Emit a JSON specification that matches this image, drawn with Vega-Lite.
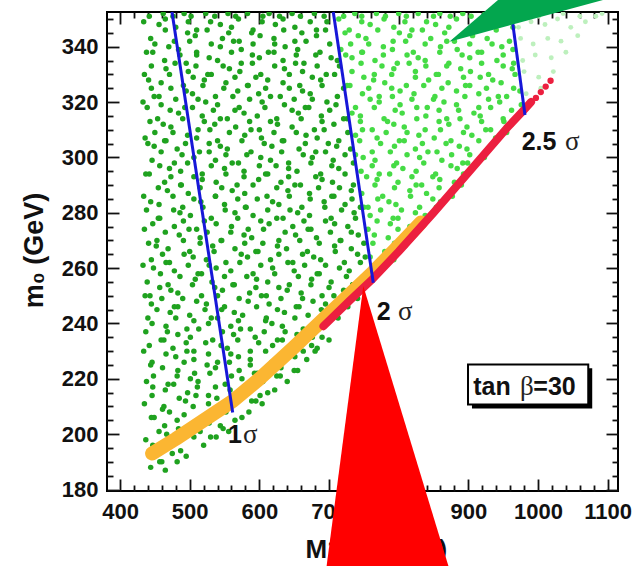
{
"$schema":"https://vega.github.io/schema/vega-lite/v6.json",
"width":511,"height":479,
"autosize":{"type":"none"},
"padding":{"left":107,"top":12,"right":19,"bottom":75},
"background":"white",
"config":{"view":{"stroke":"#000","strokeWidth":2},"axis":{"grid":false},"font":"Liberation Sans"},
"resolve":{"axis":{"x":"independent","y":"independent"}},
"datasets":{
"dark":[{"x":444,"y":188},{"x":457,"y":190},{"x":451,"y":193},{"x":460,"y":190},{"x":475,"y":193},{"x":447,"y":196},{"x":461,"y":195},{"x":477,"y":198},{"x":487,"y":194},{"x":437,"y":198},{"x":456,"y":201},{"x":467,"y":200},{"x":484,"y":202},{"x":506,"y":199},{"x":515,"y":201},
{"x":449,"y":206},{"x":464,"y":203},{"x":482,"y":205},{"x":494,"y":202},{"x":514,"y":205},{"x":528,"y":204},{"x":544,"y":203},
{"x":445,"y":206},{"x":461,"y":209},{"x":471,"y":208},{"x":492,"y":207},{"x":505,"y":210},{"x":524,"y":206},{"x":535,"y":209},{"x":552,"y":208},
{"x":435,"y":211},{"x":446,"y":214},{"x":463,"y":210},{"x":485,"y":213},{"x":494,"y":212},{"x":509,"y":214},{"x":527,"y":211},{"x":539,"y":213},{"x":559,"y":210},{"x":573,"y":213},{"x":589,"y":212},
{"x":447,"y":217},{"x":465,"y":216},{"x":477,"y":218},{"x":497,"y":215},{"x":511,"y":217},{"x":527,"y":214},{"x":537,"y":217},{"x":558,"y":216},{"x":571,"y":215},{"x":590,"y":218},{"x":601,"y":214},
{"x":438,"y":219},{"x":448,"y":221},{"x":469,"y":218},{"x":482,"y":221},{"x":501,"y":220},{"x":512,"y":219},{"x":529,"y":222},{"x":551,"y":218},{"x":560,"y":221},{"x":575,"y":220},{"x":593,"y":222},{"x":605,"y":219},{"x":625,"y":221},
{"x":444,"y":225},{"x":461,"y":224},{"x":483,"y":223},{"x":492,"y":226},{"x":507,"y":222},{"x":525,"y":225},{"x":537,"y":224},{"x":557,"y":226},{"x":571,"y":223},{"x":587,"y":225},{"x":597,"y":222},{"x":618,"y":225},{"x":631,"y":224},{"x":650,"y":223},
{"x":434,"y":230},{"x":446,"y":226},{"x":466,"y":229},{"x":480,"y":228},{"x":496,"y":230},{"x":506,"y":227},{"x":527,"y":229},{"x":540,"y":226},{"x":559,"y":229},{"x":570,"y":228},{"x":587,"y":227},{"x":609,"y":230},{"x":618,"y":226},{"x":633,"y":229},{"x":651,"y":228},{"x":663,"y":230},
{"x":442,"y":232},{"x":463,"y":234},{"x":476,"y":231},{"x":495,"y":233},{"x":506,"y":230},{"x":523,"y":233},{"x":545,"y":232},{"x":554,"y":231},{"x":569,"y":234},{"x":587,"y":230},{"x":599,"y":233},{"x":619,"y":232},{"x":633,"y":234},{"x":649,"y":231},{"x":659,"y":233},{"x":680,"y":230},
{"x":437,"y":237},{"x":459,"y":234},{"x":468,"y":237},{"x":483,"y":236},{"x":501,"y":235},{"x":513,"y":238},{"x":533,"y":234},{"x":547,"y":237},{"x":563,"y":236},{"x":573,"y":238},{"x":594,"y":235},{"x":607,"y":237},{"x":626,"y":234},{"x":637,"y":237},{"x":654,"y":236},{"x":676,"y":235},{"x":685,"y":238},{"x":700,"y":234},
{"x":446,"y":240},{"x":466,"y":239},{"x":480,"y":242},{"x":496,"y":238},{"x":506,"y":241},{"x":527,"y":240},{"x":540,"y":242},{"x":559,"y":239},{"x":570,"y":241},{"x":587,"y":238},{"x":609,"y":241},{"x":618,"y":240},{"x":633,"y":239},{"x":651,"y":242},{"x":663,"y":238},{"x":683,"y":241},{"x":697,"y":240},{"x":713,"y":242},
{"x":440,"y":242},{"x":453,"y":245},{"x":472,"y":244},{"x":483,"y":246},{"x":500,"y":243},{"x":522,"y":245},{"x":531,"y":242},{"x":546,"y":245},{"x":564,"y":244},{"x":576,"y":243},{"x":596,"y":246},{"x":610,"y":242},{"x":626,"y":245},{"x":636,"y":244},{"x":657,"y":246},{"x":670,"y":243},{"x":689,"y":245},{"x":700,"y":242},{"x":717,"y":245},
{"x":436,"y":250},{"x":445,"y":247},{"x":460,"y":249},{"x":478,"y":246},{"x":490,"y":249},{"x":510,"y":248},{"x":524,"y":247},{"x":540,"y":250},{"x":550,"y":246},{"x":571,"y":249},{"x":584,"y":248},{"x":603,"y":250},{"x":614,"y":247},{"x":631,"y":249},{"x":653,"y":246},{"x":662,"y":249},{"x":677,"y":248},{"x":695,"y":247},{"x":707,"y":250},{"x":727,"y":246},{"x":741,"y":249},
{"x":443,"y":250},{"x":457,"y":253},{"x":473,"y":252},{"x":483,"y":251},{"x":504,"y":254},{"x":517,"y":250},{"x":536,"y":253},{"x":547,"y":252},{"x":564,"y":254},{"x":586,"y":251},{"x":595,"y":253},{"x":610,"y":250},{"x":628,"y":253},{"x":640,"y":252},{"x":660,"y":251},{"x":674,"y":254},{"x":690,"y":250},{"x":700,"y":253},{"x":721,"y":252},{"x":734,"y":254},
{"x":439,"y":255},{"x":458,"y":258},{"x":469,"y":254},{"x":486,"y":257},{"x":508,"y":256},{"x":517,"y":258},{"x":532,"y":255},{"x":550,"y":257},{"x":562,"y":254},{"x":582,"y":257},{"x":596,"y":256},{"x":612,"y":255},{"x":622,"y":258},{"x":643,"y":254},{"x":656,"y":257},{"x":675,"y":256},{"x":686,"y":258},{"x":703,"y":255},{"x":725,"y":257},{"x":734,"y":254},{"x":749,"y":257},
{"x":433,"y":261},{"x":448,"y":260},{"x":466,"y":262},{"x":478,"y":259},{"x":498,"y":261},{"x":512,"y":258},{"x":528,"y":261},{"x":538,"y":260},{"x":559,"y":259},{"x":572,"y":262},{"x":591,"y":258},{"x":602,"y":261},{"x":619,"y":260},{"x":641,"y":262},{"x":650,"y":259},{"x":665,"y":261},{"x":683,"y":258},{"x":695,"y":261},{"x":715,"y":260},{"x":729,"y":259},{"x":745,"y":262},{"x":755,"y":258},
{"x":445,"y":263},{"x":461,"y":265},{"x":471,"y":262},{"x":492,"y":265},{"x":505,"y":264},{"x":524,"y":263},{"x":535,"y":266},{"x":552,"y":262},{"x":574,"y":265},{"x":583,"y":264},{"x":598,"y":266},{"x":616,"y":263},{"x":628,"y":265},{"x":648,"y":262},{"x":662,"y":265},{"x":678,"y":264},{"x":688,"y":263},{"x":709,"y":266},{"x":722,"y":262},{"x":741,"y":265},{"x":752,"y":264},
{"x":441,"y":269},{"x":452,"y":268},{"x":469,"y":267},{"x":491,"y":270},{"x":500,"y":266},{"x":515,"y":269},{"x":533,"y":268},{"x":545,"y":270},{"x":565,"y":267},{"x":579,"y":269},{"x":595,"y":266},{"x":605,"y":269},{"x":626,"y":268},{"x":639,"y":267},{"x":658,"y":270},{"x":669,"y":266},{"x":686,"y":269},{"x":708,"y":268},{"x":717,"y":270},{"x":732,"y":267},{"x":750,"y":269},
{"x":435,"y":274},{"x":453,"y":270},{"x":465,"y":273},{"x":485,"y":272},{"x":499,"y":274},{"x":515,"y":271},{"x":525,"y":273},{"x":546,"y":270},{"x":559,"y":273},{"x":578,"y":272},{"x":589,"y":271},{"x":606,"y":274},{"x":628,"y":270},{"x":637,"y":273},{"x":652,"y":272},{"x":670,"y":274},{"x":682,"y":271},{"x":702,"y":273},{"x":716,"y":270},{"x":732,"y":273},{"x":742,"y":272},
{"x":447,"y":276},{"x":457,"y":278},{"x":478,"y":275},{"x":491,"y":277},{"x":510,"y":274},{"x":521,"y":277},{"x":538,"y":276},{"x":560,"y":275},{"x":569,"y":278},{"x":584,"y":274},{"x":602,"y":277},{"x":614,"y":276},{"x":634,"y":278},{"x":648,"y":275},{"x":664,"y":277},{"x":674,"y":274},{"x":695,"y":277},{"x":708,"y":276},{"x":727,"y":275},{"x":738,"y":278},
{"x":438,"y":281},{"x":455,"y":278},{"x":477,"y":281},{"x":486,"y":280},{"x":501,"y":279},{"x":519,"y":282},{"x":531,"y":278},{"x":551,"y":281},{"x":565,"y":280},{"x":581,"y":282},{"x":591,"y":279},{"x":612,"y":281},{"x":625,"y":278},{"x":644,"y":281},{"x":655,"y":280},{"x":672,"y":279},{"x":694,"y":282},{"x":703,"y":278},{"x":718,"y":281},{"x":736,"y":280},{"x":745,"y":282},
{"x":444,"y":284},{"x":456,"y":283},{"x":476,"y":286},{"x":490,"y":282},{"x":506,"y":285},{"x":516,"y":284},{"x":537,"y":286},{"x":550,"y":283},{"x":569,"y":285},{"x":580,"y":282},{"x":597,"y":285},{"x":619,"y":284},{"x":628,"y":283},{"x":643,"y":286},{"x":661,"y":282},{"x":673,"y":285},{"x":693,"y":284},{"x":707,"y":286},{"x":723,"y":283},{"x":733,"y":285},
{"x":434,"y":286},{"x":455,"y":289},{"x":468,"y":288},{"x":487,"y":290},{"x":498,"y":287},{"x":515,"y":289},{"x":537,"y":286},{"x":546,"y":289},{"x":561,"y":288},{"x":579,"y":287},{"x":591,"y":290},{"x":611,"y":286},{"x":625,"y":289},{"x":641,"y":288},{"x":651,"y":290},{"x":672,"y":287},{"x":685,"y":289},{"x":704,"y":286},{"x":715,"y":289},{"x":732,"y":288},
{"x":442,"y":294},{"x":464,"y":291},{"x":473,"y":293},{"x":488,"y":290},{"x":506,"y":293},{"x":518,"y":292},{"x":538,"y":291},{"x":552,"y":294},{"x":568,"y":290},{"x":578,"y":293},{"x":599,"y":292},{"x":612,"y":294},{"x":631,"y":291},{"x":642,"y":293},{"x":659,"y":290},{"x":681,"y":293},{"x":690,"y":292},{"x":705,"y":291},{"x":723,"y":294},{"x":735,"y":290},
{"x":437,"y":294},{"x":457,"y":297},{"x":471,"y":296},{"x":487,"y":295},{"x":497,"y":298},{"x":518,"y":294},{"x":531,"y":297},{"x":550,"y":296},{"x":561,"y":298},{"x":578,"y":295},{"x":600,"y":297},{"x":609,"y":294},{"x":624,"y":297},{"x":642,"y":296},{"x":654,"y":295},{"x":674,"y":298},{"x":688,"y":294},{"x":704,"y":297},{"x":714,"y":296},{"x":735,"y":298},
{"x":446,"y":299},{"x":459,"y":302},{"x":478,"y":298},{"x":489,"y":301},{"x":506,"y":300},{"x":528,"y":302},{"x":537,"y":299},{"x":552,"y":301},{"x":570,"y":298},{"x":582,"y":301},{"x":602,"y":300},{"x":616,"y":299},{"x":632,"y":302},{"x":642,"y":298},{"x":663,"y":301},{"x":676,"y":300},{"x":695,"y":302},{"x":706,"y":299},{"x":723,"y":301},
{"x":440,"y":305},{"x":449,"y":304},{"x":464,"y":306},{"x":482,"y":303},{"x":494,"y":305},{"x":514,"y":302},{"x":528,"y":305},{"x":544,"y":304},{"x":554,"y":303},{"x":575,"y":306},{"x":588,"y":302},{"x":607,"y":305},{"x":618,"y":304},{"x":635,"y":306},{"x":657,"y":303},{"x":666,"y":305},{"x":681,"y":302},{"x":699,"y":305},{"x":711,"y":304},{"x":731,"y":303},
{"x":436,"y":307},{"x":450,"y":309},{"x":466,"y":306},{"x":476,"y":309},{"x":497,"y":308},{"x":510,"y":307},{"x":529,"y":310},{"x":540,"y":306},{"x":557,"y":309},{"x":579,"y":308},{"x":588,"y":310},{"x":603,"y":307},{"x":621,"y":309},{"x":633,"y":306},{"x":653,"y":309},{"x":667,"y":308},{"x":683,"y":307},{"x":693,"y":310},{"x":714,"y":306},{"x":727,"y":309},
{"x":443,"y":313},{"x":462,"y":312},{"x":473,"y":311},{"x":490,"y":314},{"x":512,"y":310},{"x":521,"y":313},{"x":536,"y":312},{"x":554,"y":314},{"x":566,"y":311},{"x":586,"y":313},{"x":600,"y":310},{"x":616,"y":313},{"x":626,"y":312},{"x":647,"y":311},{"x":660,"y":314},{"x":679,"y":310},{"x":690,"y":313},{"x":707,"y":312},{"x":726,"y":314},
{"x":439,"y":318},{"x":454,"y":314},{"x":472,"y":317},{"x":484,"y":316},{"x":504,"y":318},{"x":518,"y":315},{"x":534,"y":317},{"x":544,"y":314},{"x":565,"y":317},{"x":578,"y":316},{"x":597,"y":315},{"x":608,"y":318},{"x":625,"y":314},{"x":647,"y":317},{"x":656,"y":316},{"x":671,"y":318},{"x":689,"y":315},{"x":701,"y":317},{"x":721,"y":314},
{"x":433,"y":320},{"x":449,"y":322},{"x":459,"y":319},{"x":480,"y":321},{"x":493,"y":318},{"x":512,"y":321},{"x":523,"y":320},{"x":540,"y":319},{"x":562,"y":322},{"x":571,"y":318},{"x":586,"y":321},{"x":604,"y":320},{"x":616,"y":322},{"x":636,"y":319},{"x":650,"y":321},{"x":666,"y":318},{"x":676,"y":321},{"x":697,"y":320},{"x":710,"y":319},
{"x":445,"y":325},{"x":456,"y":322},{"x":473,"y":325},{"x":495,"y":324},{"x":504,"y":323},{"x":519,"y":326},{"x":537,"y":322},{"x":549,"y":325},{"x":569,"y":324},{"x":583,"y":326},{"x":599,"y":323},{"x":609,"y":325},{"x":630,"y":322},{"x":643,"y":325},{"x":662,"y":324},{"x":673,"y":323},{"x":690,"y":326},{"x":712,"y":322},{"x":721,"y":325},
{"x":441,"y":328},{"x":459,"y":327},{"x":471,"y":330},{"x":491,"y":326},{"x":505,"y":329},{"x":521,"y":328},{"x":531,"y":330},{"x":552,"y":327},{"x":565,"y":329},{"x":584,"y":326},{"x":595,"y":329},{"x":612,"y":328},{"x":634,"y":327},{"x":643,"y":330},{"x":658,"y":326},{"x":676,"y":329},{"x":688,"y":328},{"x":708,"y":330},
{"x":435,"y":330},{"x":445,"y":333},{"x":466,"y":332},{"x":479,"y":334},{"x":498,"y":331},{"x":509,"y":333},{"x":526,"y":330},{"x":548,"y":333},{"x":557,"y":332},{"x":572,"y":331},{"x":590,"y":334},{"x":602,"y":330},{"x":622,"y":333},{"x":636,"y":332},{"x":652,"y":334},{"x":662,"y":331},{"x":683,"y":333},{"x":696,"y":330},{"x":715,"y":333},
{"x":447,"y":338},{"x":464,"y":335},{"x":486,"y":337},{"x":495,"y":334},{"x":510,"y":337},{"x":528,"y":336},{"x":540,"y":335},{"x":560,"y":338},{"x":574,"y":334},{"x":590,"y":337},{"x":600,"y":336},{"x":621,"y":338},{"x":634,"y":335},{"x":653,"y":337},{"x":664,"y":334},{"x":681,"y":337},{"x":703,"y":336},{"x":712,"y":335},
{"x":438,"y":338},{"x":450,"y":341},{"x":470,"y":340},{"x":484,"y":339},{"x":500,"y":342},{"x":510,"y":338},{"x":531,"y":341},{"x":544,"y":340},{"x":563,"y":342},{"x":574,"y":339},{"x":591,"y":341},{"x":613,"y":338},{"x":622,"y":341},{"x":637,"y":340},{"x":655,"y":339},{"x":667,"y":342},{"x":687,"y":338},{"x":701,"y":341},
{"x":444,"y":343},{"x":465,"y":346},{"x":478,"y":342},{"x":497,"y":345},{"x":508,"y":344},{"x":525,"y":346},{"x":547,"y":343},{"x":556,"y":345},{"x":571,"y":342},{"x":589,"y":345},{"x":601,"y":344},{"x":621,"y":343},{"x":635,"y":346},{"x":651,"y":342},{"x":661,"y":345},{"x":682,"y":344},{"x":695,"y":346},
{"x":434,"y":349},{"x":456,"y":348},{"x":465,"y":350},{"x":480,"y":347},{"x":498,"y":349},{"x":510,"y":346},{"x":530,"y":349},{"x":544,"y":348},{"x":560,"y":347},{"x":570,"y":350},{"x":591,"y":346},{"x":604,"y":349},{"x":623,"y":348},{"x":634,"y":350},{"x":651,"y":347},{"x":673,"y":349},{"x":682,"y":346},{"x":697,"y":349},
{"x":442,"y":351},{"x":462,"y":352},{"x":476,"y":351},{"x":492,"y":352},{"x":502,"y":351},{"x":523,"y":352},{"x":536,"y":351},{"x":555,"y":352},{"x":566,"y":351},{"x":583,"y":352},{"x":605,"y":351},{"x":614,"y":352},{"x":629,"y":351},{"x":647,"y":352},{"x":659,"y":351},{"x":679,"y":352},{"x":693,"y":351},
{"x":585,"y":208},{"x":604,"y":211},{"x":622,"y":216},{"x":640,"y":219},{"x":655,"y":223},{"x":668,"y":227},{"x":683,"y":231},{"x":612,"y":215},{"x":630,"y":221},{"x":548,"y":202},{"x":530,"y":199},{"x":565,"y":205},{"x":595,"y":212},{"x":675,"y":232},{"x":690,"y":235},{"x":465,"y":187},{"x":482,"y":190},{"x":495,"y":192},{"x":520,"y":196},{"x":538,"y":199},{"x":556,"y":201},{"x":575,"y":206}],
"light":[{"x":765,"y":257},{"x":770,"y":262},{"x":759,"y":264},{"x":780,"y":266},{"x":793,"y":263},{"x":763,"y":269},{"x":785,"y":266},{"x":794,"y":269},{"x":809,"y":268},
{"x":765,"y":272},{"x":785,"y":271},{"x":799,"y":274},{"x":815,"y":270},{"x":825,"y":273},
{"x":756,"y":274},{"x":769,"y":277},{"x":788,"y":276},{"x":799,"y":278},{"x":816,"y":275},{"x":838,"y":277},
{"x":750,"y":282},{"x":759,"y":279},{"x":774,"y":281},{"x":792,"y":278},{"x":804,"y":281},{"x":824,"y":280},{"x":838,"y":279},{"x":854,"y":282},
{"x":756,"y":282},{"x":770,"y":285},{"x":786,"y":284},{"x":796,"y":283},{"x":817,"y":286},{"x":830,"y":282},{"x":849,"y":285},{"x":860,"y":284},{"x":877,"y":286},
{"x":747,"y":287},{"x":766,"y":290},{"x":777,"y":286},{"x":794,"y":289},{"x":816,"y":288},{"x":825,"y":290},{"x":840,"y":287},{"x":858,"y":289},{"x":870,"y":286},{"x":890,"y":290},
{"x":754,"y":293},{"x":769,"y":292},{"x":787,"y":294},{"x":799,"y":291},{"x":819,"y":293},{"x":833,"y":290},{"x":849,"y":293},{"x":859,"y":292},{"x":880,"y":291},{"x":893,"y":294},
{"x":746,"y":295},{"x":762,"y":297},{"x":772,"y":294},{"x":793,"y":297},{"x":806,"y":296},{"x":825,"y":295},{"x":836,"y":298},{"x":853,"y":294},{"x":875,"y":297},{"x":884,"y":296},{"x":899,"y":298},
{"x":738,"y":301},{"x":749,"y":300},{"x":766,"y":299},{"x":788,"y":302},{"x":797,"y":298},{"x":812,"y":301},{"x":830,"y":300},{"x":842,"y":302},{"x":862,"y":299},{"x":876,"y":301},{"x":892,"y":298},{"x":902,"y":301},{"x":923,"y":300},
{"x":744,"y":306},{"x":762,"y":302},{"x":774,"y":305},{"x":794,"y":304},{"x":808,"y":306},{"x":824,"y":303},{"x":834,"y":305},{"x":855,"y":302},{"x":868,"y":305},{"x":887,"y":304},{"x":898,"y":303},{"x":915,"y":306},
{"x":738,"y":308},{"x":748,"y":310},{"x":769,"y":307},{"x":782,"y":309},{"x":801,"y":306},{"x":812,"y":309},{"x":829,"y":308},{"x":851,"y":307},{"x":860,"y":310},{"x":875,"y":306},{"x":893,"y":309},{"x":905,"y":308},{"x":925,"y":310},{"x":939,"y":307},{"x":955,"y":309},
{"x":745,"y":313},{"x":762,"y":310},{"x":784,"y":313},{"x":793,"y":312},{"x":808,"y":311},{"x":826,"y":314},{"x":838,"y":310},{"x":858,"y":313},{"x":872,"y":312},{"x":888,"y":314},{"x":898,"y":311},{"x":919,"y":313},{"x":932,"y":310},{"x":951,"y":313},{"x":962,"y":312},
{"x":733,"y":316},{"x":745,"y":315},{"x":765,"y":318},{"x":779,"y":314},{"x":795,"y":317},{"x":805,"y":316},{"x":826,"y":318},{"x":839,"y":315},{"x":858,"y":317},{"x":869,"y":314},{"x":886,"y":317},{"x":908,"y":316},{"x":917,"y":315},{"x":932,"y":318},{"x":950,"y":314},{"x":962,"y":317},
{"x":738,"y":318},{"x":759,"y":321},{"x":772,"y":320},{"x":791,"y":322},{"x":802,"y":319},{"x":819,"y":321},{"x":841,"y":318},{"x":850,"y":321},{"x":865,"y":320},{"x":883,"y":319},{"x":895,"y":322},{"x":915,"y":318},{"x":929,"y":321},{"x":945,"y":320},{"x":955,"y":322},{"x":976,"y":319},
{"x":726,"y":326},{"x":748,"y":323},{"x":757,"y":325},{"x":772,"y":322},{"x":790,"y":325},{"x":802,"y":324},{"x":822,"y":323},{"x":836,"y":326},{"x":852,"y":322},{"x":862,"y":325},{"x":883,"y":324},{"x":896,"y":326},{"x":915,"y":323},{"x":926,"y":325},{"x":943,"y":322},{"x":965,"y":325},{"x":974,"y":324},
{"x":730,"y":326},{"x":750,"y":329},{"x":764,"y":328},{"x":780,"y":327},{"x":790,"y":330},{"x":811,"y":326},{"x":824,"y":329},{"x":843,"y":328},{"x":854,"y":330},{"x":871,"y":327},{"x":893,"y":329},{"x":902,"y":326},{"x":917,"y":329},{"x":935,"y":328},{"x":947,"y":327},{"x":967,"y":330},
{"x":733,"y":331},{"x":746,"y":334},{"x":765,"y":330},{"x":776,"y":333},{"x":793,"y":332},{"x":815,"y":334},{"x":824,"y":331},{"x":839,"y":333},{"x":857,"y":330},{"x":869,"y":333},{"x":889,"y":332},{"x":903,"y":331},{"x":919,"y":334},{"x":929,"y":330},{"x":950,"y":333},{"x":963,"y":332},
{"x":724,"y":337},{"x":733,"y":336},{"x":748,"y":338},{"x":766,"y":335},{"x":778,"y":337},{"x":798,"y":334},{"x":812,"y":337},{"x":828,"y":336},{"x":838,"y":335},{"x":859,"y":338},{"x":872,"y":334},{"x":891,"y":337},{"x":902,"y":336},{"x":919,"y":338},{"x":941,"y":335},{"x":950,"y":337},{"x":965,"y":334},
{"x":717,"y":339},{"x":731,"y":341},{"x":747,"y":338},{"x":757,"y":341},{"x":778,"y":340},{"x":791,"y":339},{"x":810,"y":342},{"x":821,"y":338},{"x":838,"y":341},{"x":860,"y":340},{"x":869,"y":342},{"x":884,"y":339},{"x":902,"y":341},{"x":914,"y":338},{"x":934,"y":341},{"x":948,"y":340},{"x":964,"y":339},
{"x":723,"y":345},{"x":742,"y":344},{"x":753,"y":343},{"x":770,"y":346},{"x":792,"y":342},{"x":801,"y":345},{"x":816,"y":344},{"x":834,"y":346},{"x":846,"y":343},{"x":866,"y":345},{"x":880,"y":342},{"x":896,"y":345},{"x":906,"y":344},{"x":927,"y":343},{"x":940,"y":346},{"x":959,"y":342},
{"x":714,"y":350},{"x":729,"y":346},{"x":747,"y":349},{"x":759,"y":348},{"x":779,"y":350},{"x":793,"y":347},{"x":809,"y":349},{"x":819,"y":346},{"x":840,"y":349},{"x":853,"y":348},{"x":872,"y":347},{"x":883,"y":350},{"x":900,"y":346},{"x":922,"y":349},{"x":931,"y":348},{"x":946,"y":350},{"x":964,"y":347},
{"x":721,"y":351},{"x":737,"y":352},{"x":747,"y":351},{"x":768,"y":352},{"x":781,"y":351},{"x":800,"y":352},{"x":811,"y":351},{"x":828,"y":352},{"x":850,"y":351},{"x":859,"y":352},{"x":874,"y":351},{"x":892,"y":352},{"x":904,"y":351},{"x":924,"y":352},{"x":938,"y":351},{"x":954,"y":352}],
"vlight":[{"x":986,"y":319},{"x":983,"y":323},{"x":1004,"y":325},{"x":980,"y":331},{"x":1001,"y":329},{"x":1022,"y":331},{"x":978,"y":335},{"x":996,"y":337},{"x":1019,"y":336},{"x":1040,"y":338},{"x":975,"y":343},{"x":993,"y":341},{"x":1014,"y":343},{"x":1033,"y":342},{"x":1057,"y":344},{"x":972,"y":347},{"x":990,"y":349},{"x":1010,"y":348},{"x":1028,"y":350},{"x":1047,"y":347},{"x":1068,"y":349},{"x":1083,"y":351},{"x":980,"y":352},{"x":1001,"y":351},{"x":1036,"y":352},{"x":1060,"y":351},{"x":1092,"y":352}],
"orange":[{"x":446,"y":193},{"x":480,"y":198.3},{"x":520,"y":205},{"x":562,"y":212},{"x":600,"y":220},{"x":650,"y":231.5},{"x":700,"y":243.5},{"x":735,"y":251.8},{"x":763.5,"y":258.6},{"x":800,"y":268},{"x":832,"y":276.5}],
"red":[{"x":692,"y":239},{"x":730,"y":248.3},{"x":763.5,"y":256.3},{"x":800,"y":266},{"x":850,"y":280},{"x":900,"y":294.5},{"x":955,"y":310.5},{"x":981,"y":317.5},{"x":990,"y":320}],
"reddots":[{"x":997,"y":321.5},{"x":1004,"y":323.6},{"x":1011,"y":325.6},{"x":1018,"y":327.7}],
"blue":[{"s":"1","x":474.6,"y":352.54},{"s":"1","x":561.7,"y":207.8},{"s":"2","x":706.1,"y":352.54},{"s":"2","x":763.5,"y":254.7},{"s":"3","x":961.5,"y":352.54},{"s":"3","x":981.3,"y":315.3}],
"shadow":[{"x":905.2,"x2":1077.8,"y":209.3,"y2":223.8}],
"box":[{"x":899.5,"x2":1072.1,"y":210.7,"y2":225.2}],
"boldtext":[{"x":555,"y":196.8,"t":"1"},{"x":768.4,"y":241.2,"t":"2"},{"x":976.5,"y":302.7,"t":"2.5"},{"x":907,"y":214.1,"t":"tan"},{"x":993.2,"y":214.1,"t":"=30"}],
"greek":[{"x":576.5,"y":196.8,"t":"σ"},{"x":799,"y":241.2,"t":"σ"},{"x":1038.7,"y":302.7,"t":"σ"},{"x":974.1,"y":214.1,"t":"β"}],
"redtri":[{"y":253.5,"x":749.2,"x2":749.2},{"y":147.3,"x":693.9,"x2":877.5}],
"greentri":[{"y":341.8,"x":872.6,"x2":872.6},{"y":364.1,"x":976,"x2":1199}]
},
"encoding":{
"x":{"field":"x","type":"quantitative","scale":{"domain":[381.3,1114.8],"nice":false,"zero":false},"axis":null},
"y":{"field":"y","type":"quantitative","scale":{"domain":[179.46,352.54],"nice":false,"zero":false},"axis":null}
},
"layer":[
{"data":{"name":"dark"},"mark":{"type":"circle","color":"#1fa21f","size":30,"opacity":1,"clip":true},
"encoding":{
"x":{"field":"x","type":"quantitative","scale":{"domain":[381.3,1114.8],"nice":false,"zero":false},
"axis":{"orient":"bottom","values":[400,420,440,460,480,500,520,540,560,580,600,620,640,660,680,700,720,740,760,780,800,820,840,860,880,900,920,940,960,980,1000,1020,1040,1060,1080,1100],
"format":"d","labelExpr":"datum.value % 100 === 0 ? datum.label : ''","domain":false,"grid":false,
"tickSize":{"condition":{"test":"datum.value % 100 === 0","value":-12},"value":-6},"tickColor":"#111","tickWidth":1.8,
"labelPadding":22,"labelFont":"Liberation Sans","labelFontWeight":"bold","labelFontSize":22,"labelColor":"#111","labelOverlap":false,"labelFlush":false,"labelBound":false,
"title":"M1/2\u00a0\u00a0(GeV)","titleFont":"Liberation Sans","titleFontWeight":"bold","titleFontSize":26,"titleColor":"#111","titleAlign":"left","titleBaseline":"alphabetic","titleX":198,"titleY":66}},
"y":{"field":"y","type":"quantitative","scale":{"domain":[179.46,352.54],"nice":false,"zero":false},
"axis":{"orient":"left","values":[180,185,190,195,200,205,210,215,220,225,230,235,240,245,250,255,260,265,270,275,280,285,290,295,300,305,310,315,320,325,330,335,340,345,350],
"format":"d","labelExpr":"datum.value % 20 === 0 ? datum.label : ''","domain":false,"grid":false,
"tickSize":{"condition":{"test":"datum.value % 20 === 0","value":-12},"value":-6},"tickColor":"#111","tickWidth":1.8,
"labelPadding":21,"labelFont":"Liberation Sans","labelFontWeight":"bold","labelFontSize":22,"labelColor":"#111","labelOverlap":false,"labelFlush":false,"labelBound":false,
"title":"m₀ (GeV)","titleFont":"Liberation Sans","titleFontWeight":"bold","titleFontSize":27,"titleColor":"#111","titleAlign":"center","titleBaseline":"alphabetic","titleAngle":270,"titleX":-65,"titleY":238}}}},
{"data":{"name":"light"},"mark":{"type":"circle","color":"#45db45","size":30,"opacity":1,"clip":true}},
{"data":{"name":"vlight"},"mark":{"type":"circle","color":"#bdf0bd","size":24,"opacity":1,"clip":true}},
{"data":{"name":"orange"},"mark":{"type":"line","color":"#fbb632","strokeWidth":14,"strokeCap":"round","strokeJoin":"round"}},
{"data":{"name":"red"},"mark":{"type":"line","color":"#ec1f3f","strokeWidth":8,"strokeCap":"round","strokeJoin":"round"}},
{"data":{"name":"reddots"},"mark":{"type":"circle","color":"#ec1f3f","size":40,"opacity":1}},
{"data":{"name":"blue"},"mark":{"type":"line","color":"#1717d8","strokeWidth":3},
"encoding":{
"x":{"field":"x","type":"quantitative","scale":{"domain":[381.3,1114.8],"nice":false,"zero":false},
"axis":{"orient":"top","values":[400,420,440,460,480,500,520,540,560,580,600,620,640,660,680,700,720,740,760,780,800,820,840,860,880,900,920,940,960,980,1000,1020,1040,1060,1080,1100],
"labels":false,"title":null,"domain":false,"grid":false,
"tickSize":{"condition":{"test":"datum.value % 100 === 0","value":-12},"value":-6},"tickColor":"#111","tickWidth":1.8}},
"y":{"field":"y","type":"quantitative","scale":{"domain":[179.46,352.54],"nice":false,"zero":false},
"axis":{"orient":"right","values":[180,185,190,195,200,205,210,215,220,225,230,235,240,245,250,255,260,265,270,275,280,285,290,295,300,305,310,315,320,325,330,335,340,345,350],
"labels":false,"title":null,"domain":false,"grid":false,
"tickSize":{"condition":{"test":"datum.value % 20 === 0","value":-12},"value":-6},"tickColor":"#111","tickWidth":1.8}},
"detail":{"field":"s","type":"nominal"}}},
{"data":{"name":"shadow"},"mark":{"type":"rect","color":"#000"},"encoding":{"x2":{"field":"x2"},"y2":{"field":"y2"}}},
{"data":{"name":"box"},"mark":{"type":"rect","fill":"#fff","stroke":"#000","strokeWidth":2},"encoding":{"x2":{"field":"x2"},"y2":{"field":"y2"}}},
{"data":{"name":"boldtext"},"mark":{"type":"text","align":"left","baseline":"alphabetic","font":"Liberation Sans","fontWeight":"bold","fontSize":25,"color":"#111"},"encoding":{"text":{"field":"t"}}},
{"data":{"name":"greek"},"mark":{"type":"text","align":"left","baseline":"alphabetic","font":"Liberation Serif","fontWeight":"normal","fontSize":27,"color":"#222"},"encoding":{"text":{"field":"t"}}},
{"data":{"name":"redtri"},"mark":{"type":"area","orient":"horizontal","color":"#ff0000","opacity":1},"encoding":{"x2":{"field":"x2"}}},
{"data":{"name":"greentri"},"mark":{"type":"area","orient":"horizontal","color":"#03a64e","opacity":1},"encoding":{"x2":{"field":"x2"}}}
]
}
